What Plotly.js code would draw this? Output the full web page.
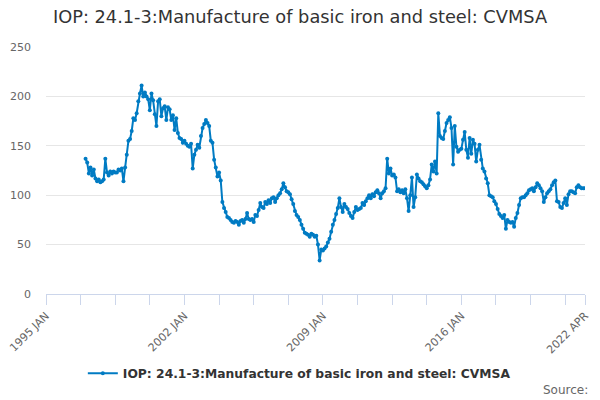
<!DOCTYPE html>
<html>
<head>
<meta charset="utf-8">
<script src="https://cdn.plot.ly/plotly-3.0.1.min.js"></script>
<style>
  html, body { margin: 0; padding: 0; background: #fff; }
  #chart { width: 600px; height: 400px; }
</style>
</head>
<body>
<div id="chart"></div>
<script>
// axis starts at 1995 JAN, data starts at 1997 JAN, ends 2022 APR
const monthNames = ["JAN", "FEB", "MAR", "APR", "MAY", "JUN", "JUL", "AUG", "SEP", "OCT", "NOV", "DEC"];
const axisStartYear = 1995;
const dataStartYear = 1997;
const endYear = 2022;
const endMonth = 4;

const seriesName = "IOP: 24.1-3:Manufacture of basic iron and steel: CVMSA";

// monthly values, one row per year
const values = [
  137, 133, 122, 128, 120, 126, 117, 114, 116, 113, 114, 116, // 1997
  137, 123, 120, 124, 122, 124, 123, 123, 126, 125, 127, 114, // 1998
  128, 141, 155, 157, 165, 178, 176, 183, 195, 203, 211, 200, // 1999
  204, 200, 197, 186, 203, 196, 182, 170, 195, 197, 180, 188, // 2000
  190, 176, 189, 187, 176, 181, 166, 178, 163, 158, 157, 153, // 2001
  155, 152, 150, 149, 152, 127, 141, 146, 151, 148, 160, 168, // 2002
  172, 176, 173, 170, 155, 153, 136, 128, 119, 123, 115, 93,  // 2003
  87, 83, 78, 77, 75, 73, 72, 74, 73, 70, 74, 75,             // 2004
  72, 76, 82, 76, 75, 76, 73, 80, 79, 85, 92, 88,             // 2005
  87, 93, 91, 95, 92, 97, 98, 93, 97, 100, 102, 106,          // 2006
  112, 108, 104, 103, 101, 96, 91, 84, 80, 78, 75, 70,        // 2007
  66, 62, 61, 60, 58, 61, 60, 58, 59, 50, 34, 45,             // 2008
  44, 46, 48, 52, 56, 63, 70, 75, 81, 87, 97, 88,             // 2009
  83, 91, 88, 86, 82, 79, 77, 83, 88, 85, 86, 87,             // 2010
  92, 90, 94, 97, 100, 97, 101, 99, 103, 105, 102, 97,        // 2011
  102, 104, 107, 137, 122, 127, 120, 121, 118, 104, 106, 103, // 2012
  105, 102, 106, 97, 84, 100, 118, 88, 98, 121, 117, 114,     // 2013
  113, 111, 109, 107, 110, 116, 131, 124, 134, 122, 183, 160, // 2014
  158, 157, 165, 173, 176, 179, 168, 131, 170, 149, 144, 146, // 2015
  147, 156, 164, 146, 138, 158, 142, 156, 152, 134, 146, 151, // 2016
  136, 127, 124, 117, 112, 100, 99, 98, 94, 91, 86, 81,       // 2017
  79, 77, 80, 66, 75, 73, 72, 73, 68, 77, 82, 90,             // 2018
  97, 98, 98, 100, 102, 105, 106, 107, 104, 108, 112, 110,    // 2019
  107, 104, 93, 98, 102, 104, 106, 110, 113, 115, 94, 93,     // 2020
  88, 87, 92, 97, 90, 101, 104, 104, 103, 102, 108, 110,      // 2021
  108, 107, 107, 107                                          // 2022
];

const yTicks = [0, 50, 100, 150, 200, 250];
const labelledTicks = ["1995 JAN", "2002 JAN", "2009 JAN", "2016 JAN", "2022 APR"];

// category labels for the whole axis
const axisCats = [];
for (let y = axisStartYear; y <= endYear; y++) {
  for (let m = 0; m < 12; m++) {
    if (y === endYear && m >= endMonth) break;
    axisCats.push(y + " " + monthNames[m]);
  }
}
const dataCats = axisCats.slice((dataStartYear - axisStartYear) * 12);

// tick marks every 21 months plus the last month
const tickVals = [];
for (let i = 0; i < axisCats.length; i += 21) tickVals.push(axisCats[i]);
tickVals.push(axisCats[axisCats.length - 1]);
const tickText = tickVals.map(c => labelledTicks.includes(c) ? c : "");

const trace = {
  type: "scatter",
  mode: "lines+markers",
  name: seriesName,
  x: dataCats,
  y: values,
  line: { color: "#007bc3", width: 2 },
  marker: { color: "#007bc3", size: 4 },
  hoverinfo: "x+y"
};

const layout = {
  width: 600,
  height: 400,
  paper_bgcolor: "#ffffff",
  plot_bgcolor: "#ffffff",
  font: { family: "DejaVu Sans, sans-serif", color: "#666666", size: 11 },
  title: {
    text: "IOP: 24.1-3:Manufacture of basic iron and steel: CVMSA",
    font: { size: 17.8, color: "#333333" },
    x: 0.5, xanchor: "center",
    yref: "container",
    y: 0.957, yanchor: "middle"
  },
  margin: { l: 46, r: 15, t: 47, b: 106 },
  xaxis: {
    type: "category",
    categoryorder: "array",
    categoryarray: axisCats,
    range: [0, axisCats.length - 1],
    tickmode: "array",
    tickvals: tickVals,
    ticktext: tickText,
    tickangle: -45,
    ticks: "outside",
    ticklen: 10,
    tickcolor: "#ccd6eb",
    showline: true,
    linecolor: "#ccd6eb",
    linewidth: 1,
    showgrid: false,
    zeroline: false,
    automargin: false,
    tickfont: { size: 11, color: "#666666" }
  },
  yaxis: {
    range: [0, 250],
    tickmode: "array",
    tickvals: yTicks,
    showgrid: true,
    gridcolor: "#e6e6e6",
    zeroline: false,
    ticks: "",
    ticklabelstandoff: 14,
    automargin: false,
    tickfont: { size: 11, color: "#666666" }
  },
  showlegend: true,
  legend: {
    orientation: "h",
    x: 0.47, xanchor: "center",
    yref: "container",
    y: 0.067, yanchor: "middle",
    font: { size: 12.3, color: "#333333", weight: "bold" }
  },
  annotations: [{
    text: "Source:",
    xref: "paper", yref: "paper",
    x: 1.01, y: -0.39,
    xanchor: "right", yanchor: "middle",
    showarrow: false,
    font: { size: 12, color: "#666666" }
  }]
};

Plotly.newPlot("chart", [trace], layout, { displayModeBar: false, staticPlot: true });
</script>
</body>
</html>
